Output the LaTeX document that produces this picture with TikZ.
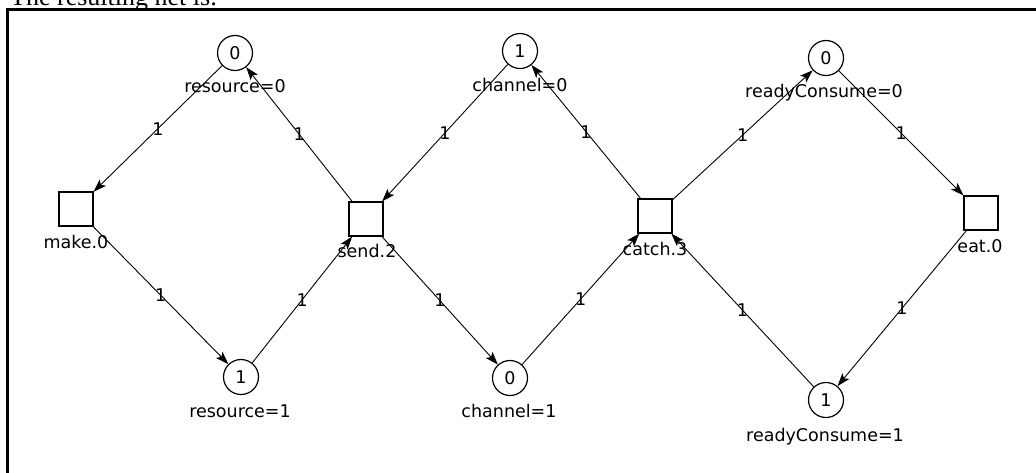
\documentclass[tikz,border=0pt]{standalone}
\usepackage{fontspec}
\setmainfont{DejaVu Sans}
\newfontfamily\pagefont{Liberation Serif}
\usetikzlibrary{arrows.meta}
\newcommand\netfont{\fontsize{17.5}{20}\selectfont}
\begin{document}
\begin{tikzpicture}[x=1pt,y=-1pt,
  place/.style={circle,draw,line width=1.2pt,minimum size=35pt,inner sep=0pt,font=\netfont},
  trans/.style={rectangle,draw,line width=1.2pt,minimum size=34pt,inner sep=0pt},
  lbl/.style={anchor=base,inner sep=0pt,font=\netfont},
  wt/.style={inner sep=0pt,font=\netfont},
  arc/.style={line width=0.9pt,-{Stealth[length=13pt,width=9pt,inset=3pt]}}
]
\useasboundingbox (0,0) rectangle (1036,472);
\clip (0,0) rectangle (1036,472);

% heading line above the framed figure
\node[anchor=base west,inner sep=0pt,font=\pagefont\fontsize{26}{30}\selectfont] (heading) at (10,5) {The resulting net is:};

% figure frame
\draw[line width=3pt] (7.5,1000) -- (7.5,9.5) -- (1100,9.5);

% places
\node[place] (r0) at (235,53) {0};
\node[place] (c0) at (520,51) {1};
\node[place] (q0) at (826,58) {0};
\node[place] (r1) at (241,377) {1};
\node[place] (c1) at (510,378) {0};
\node[place] (q1) at (826,400) {1};

% transitions
\node[trans] (make) at (76,209) {};
\node[trans] (send) at (366,219) {};
\node[trans] (catch) at (655,216) {};
\node[trans] (eat) at (981,213) {};

% arcs with weights
\draw[arc] (r0) -- node[wt] {1} (make);
\draw[arc] (make) -- node[wt] {1} (r1);
\draw[arc] (r1) -- node[wt] {1} (send);
\draw[arc] (send) -- node[wt] {1} (r0);
\draw[arc] (c0) -- node[wt] {1} (send);
\draw[arc] (send) -- node[wt] {1} (c1);
\draw[arc] (c1) -- node[wt] {1} (catch);
\draw[arc] (catch) -- node[wt] {1} (c0);
\draw[arc] (catch) -- node[wt] {1} (q0);
\draw[arc] (q0) -- node[wt] {1} (eat);
\draw[arc] (eat) -- node[wt] {1} (q1);
\draw[arc] (q1) -- node[wt] {1} (catch);

% names under places and transitions
\node[lbl] (r0n) at (235,92) {resource=0};
\node[lbl] (c0n) at (520,91) {channel=0};
\node[lbl] (q0n) at (824,97) {readyConsume=0};
\node[lbl] (r1n) at (240,417) {resource=1};
\node[lbl] (c1n) at (509,417) {channel=1};
\node[lbl] (q1n) at (825,441) {readyConsume=1};
\node[lbl] (maken) at (76,248) {make.0};
\node[lbl] (sendn) at (367,257) {send.2};
\node[lbl] (catchn) at (655,255) {catch.3};
\node[lbl] (eatn) at (980,252) {eat.0};
\end{tikzpicture}
\end{document}
